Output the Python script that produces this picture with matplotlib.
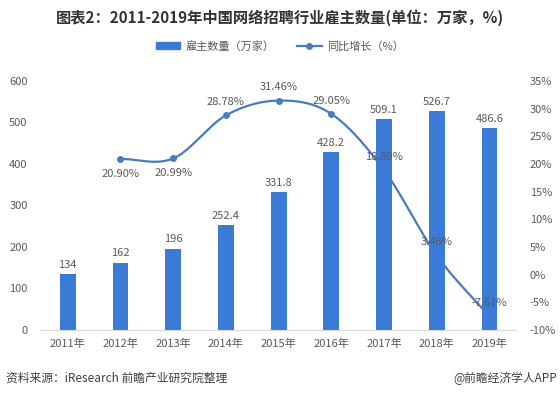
import numpy as np
import matplotlib
matplotlib.use("Agg")
import matplotlib.pyplot as plt
from matplotlib.lines import Line2D
from matplotlib.patches import Patch

plt.rcParams['font.family'] = ['Noto Sans CJK SC', 'DejaVu Sans']

years = ['2011年', '2012年', '2013年', '2014年', '2015年', '2016年', '2017年', '2018年', '2019年']
employers = [134, 162, 196, 252.4, 331.8, 428.2, 509.1, 526.7, 486.6]
employer_labels = ['134', '162', '196', '252.4', '331.8', '428.2', '509.1', '526.7', '486.6']
growth = [20.90, 20.99, 28.78, 31.46, 29.05, 18.89, 3.46, -7.61]   # 2012-2019
growth_labels = ['20.90%', '20.99%', '28.78%', '31.46%', '29.05%', '18.89%', '3.46%', '-7.61%']
growth_below = [True, True, False, False, False, False, False, False]

bar_color = '#3a7bd8'
line_color = '#4a7bbf'
text_color = '#595959'


def smooth(xs, ys, n=30):
    # catmull-rom spline through the points, like the office "smoothed line"
    xs = np.asarray(xs, float)
    ys = np.asarray(ys, float)
    px = np.concatenate([[2 * xs[0] - xs[1]], xs, [2 * xs[-1] - xs[-2]]])
    py = np.concatenate([[2 * ys[0] - ys[1]], ys, [2 * ys[-1] - ys[-2]]])
    t = np.linspace(0, 1, n)
    ox, oy = [], []
    for i in range(1, len(px) - 2):
        for p, o in ((px, ox), (py, oy)):
            p0, p1, p2, p3 = p[i - 1], p[i], p[i + 1], p[i + 2]
            o.extend(0.5 * ((2 * p1) + (-p0 + p2) * t + (2 * p0 - 5 * p1 + 4 * p2 - p3) * t ** 2
                            + (-p0 + 3 * p1 - 3 * p2 + p3) * t ** 3))
    return np.array(ox), np.array(oy)


fig = plt.figure(figsize=(5.6, 3.95), dpi=100)
ax = fig.add_axes([0.074, 0.165, 0.847, 0.63])
ax2 = ax.twinx()
# bars sit over the line (line disappears behind the 2017-2019 bars)
ax.set_zorder(2)
ax.patch.set_visible(False)

x = np.arange(len(years))
ax.bar(x, employers, width=0.3, color=bar_color, zorder=2)
for xi, v, s in zip(x, employers, employer_labels):
    ax.annotate(s, (xi, v), xytext=(0, 3), textcoords='offset points',
                ha='center', va='bottom', fontsize=8, color=text_color)

ax.set_xlim(-0.5, len(years) - 0.5)
ax.set_ylim(0, 600)
ax.set_yticks(range(0, 601, 100))
ax.set_xticks(x)
ax.set_xticklabels(years)

ax2.set_ylim(-10, 35)
ax2.set_yticks(range(-10, 36, 5))
ax2.set_yticklabels([f'{v}%' for v in range(-10, 36, 5)])

gx = x[1:]
sx, sy = smooth(gx, growth)
ax2.plot(sx, sy, color=line_color, lw=1.6, zorder=3)
ax2.plot(gx, growth, 'o', color=line_color, ms=4, zorder=4)
for xi, v, s, below in zip(gx, growth, growth_labels, growth_below):
    ax.annotate(s, (xi, v), xycoords=ax2.transData, xytext=(0, -7 if below else 6),
                textcoords='offset points', ha='center', va='top' if below else 'bottom',
                fontsize=8, color=text_color, zorder=5)

for a in (ax, ax2):
    for sp in a.spines.values():
        sp.set_visible(False)
    a.tick_params(length=0, labelsize=8, colors=text_color)
ax.spines['bottom'].set_visible(True)
ax.spines['bottom'].set_color('#d9d9d9')
ax.tick_params(axis='x', pad=6)
ax.tick_params(axis='y', pad=10)
ax2.tick_params(axis='y', pad=10)

fig.text(0.5, 0.955, '图表2：2011-2019年中国网络招聘行业雇主数量(单位：万家，%)',
         ha='center', va='center', fontsize=11, fontweight='bold', color='#333333')

handles = [Patch(color=bar_color),
           Line2D([], [], color=line_color, marker='o', ms=4, lw=1.6)]
fig.legend(handles, ['雇主数量（万家）', '同比增长（%）'], loc='center', bbox_to_anchor=(0.5, 0.883),
           ncol=2, frameon=False, fontsize=8, labelcolor=text_color,
           handlelength=2.2, handleheight=0.6, columnspacing=2.0, handletextpad=0.5)

fig.text(0.01, 0.043, '资料来源：iResearch 前瞻产业研究院整理', ha='left', va='center',
         fontsize=8.5, color='#404040')
fig.text(0.995, 0.043, '@前瞻经济学人APP', ha='right', va='center', fontsize=8.5, color='#404040')

fig.savefig('out.png', dpi=100)
